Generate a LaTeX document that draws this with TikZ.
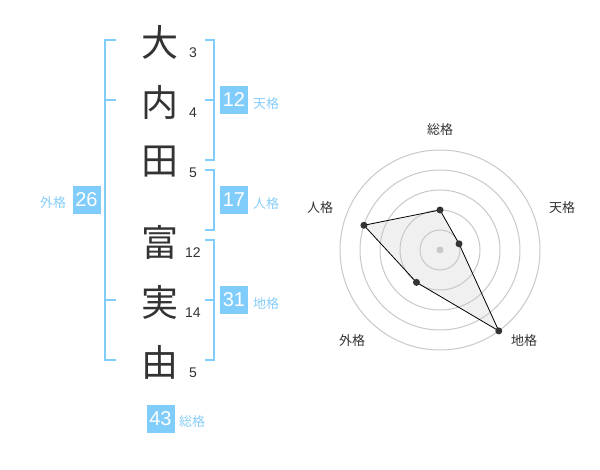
\documentclass[tikz,border=0pt]{standalone}
\usepackage{fontspec}
\usetikzlibrary{calc}
\setmainfont{Liberation Sans}
\newfontfamily\jp{Noto Sans CJK JP}
\definecolor{ink}{HTML}{333333}
\definecolor{blu}{HTML}{80CCFA}
\definecolor{lblu}{HTML}{86CDF8}
\definecolor{ring}{HTML}{C8C8C8}
\definecolor{area}{HTML}{F0F0F0}
\begin{document}
\begin{tikzpicture}[x=1pt,y=-1pt,
  kanji/.style={font=\jp\fontsize{37}{37}\selectfont, text=ink, inner sep=0},
  strk/.style={font=\fontsize{14}{14}\selectfont, text=ink, inner sep=0},
  box/.style={fill=blu, text=white, minimum size=28pt, inner sep=0, font=\fontsize{20}{20}\selectfont},
  lab/.style={font=\jp\fontsize{13}{13}\selectfont, text=lblu, inner sep=0},
  rlab/.style={font=\jp\fontsize{13}{13}\selectfont, text=ink, inner sep=0},
  brk/.style={draw=blu, line width=2pt},
  rng/.style={draw=ring, line width=1pt},
  dot/.style={circle, fill=ink, inner sep=0, minimum size=7pt},
]
\useasboundingbox (0,0) rectangle (600,470);
% name characters
\node[kanji] (k1) at (160,42) {大};
\node[kanji] (k2) at (160,102) {内};
\node[kanji] (k3) at (160,162) {田};
\node[kanji] (k4) at (160,242) {富};
\node[kanji] (k5) at (160,302) {実};
\node[kanji] (k6) at (160,362) {由};
% stroke counts
\node[strk] (s1) at (193,53) {3};
\node[strk] (s2) at (193,113) {4};
\node[strk] (s3) at (193,173) {5};
\node[strk] (s4) at (193,253) {12};
\node[strk] (s5) at (193,313) {14};
\node[strk] (s6) at (193,373) {5};
% brackets
\draw[brk] (116,40) -- (105,40) -- (105,360) -- (116,360);
\draw[brk] (105,100) -- (116,100);
\draw[brk] (105,300) -- (116,300);
\draw[brk] (205,40) -- (214,40) -- (214,160) -- (205,160);
\draw[brk] (214,100) -- (205,100);
\draw[brk] (205,170) -- (214,170) -- (214,230) -- (205,230);
\draw[brk] (205,240) -- (214,240) -- (214,360) -- (205,360);
\draw[brk] (214,300) -- (205,300);
% boxes and labels
\node[box] (b12) at (234,100) {12};
\node[lab] (l12) at (266,104) {天格};
\node[box] (b17) at (234,200) {17};
\node[lab] (l17) at (266,204) {人格};
\node[box] (b31) at (234,300) {31};
\node[lab] (l31) at (266,304) {地格};
\node[box] (b26) at (86.5,200) {26};
\node[lab] (l26) at (53,203) {外格};
\node[box] (b43) at (160.5,419) {43};
\node[lab] (l43) at (192,422) {総格};
% radar chart
\coordinate (C) at (440,250);
\coordinate (p1) at ($(C)+(-90:40)$);
\coordinate (p2) at ($(C)+(-18:20)$);
\coordinate (p3) at ($(C)+(54:100)$);
\coordinate (p4) at ($(C)+(126:40)$);
\coordinate (p5) at ($(C)+(198:80)$);
\fill[area] (p1) -- (p2) -- (p3) -- (p4) -- (p5) -- cycle;
\foreach \r in {20,40,60,80,100} \draw[rng] (C) circle[radius=\r];
\node[circle, fill=ring, inner sep=0, minimum size=7pt] (c0) at (C) {};
\draw[black, line width=0.8pt] (p1) -- (p2) -- (p3) -- (p4) -- (p5) -- cycle;
\foreach \i in {1,...,5} \node[dot] (d\i) at (p\i) {};
\node[rlab] (r1) at (440,130) {総格};
\node[rlab] (r2) at (562,208) {天格};
\node[rlab] (r3) at (524,341) {地格};
\node[rlab] (r4) at (352,341) {外格};
\node[rlab] (r5) at (320,208) {人格};
\end{tikzpicture}
\end{document}
